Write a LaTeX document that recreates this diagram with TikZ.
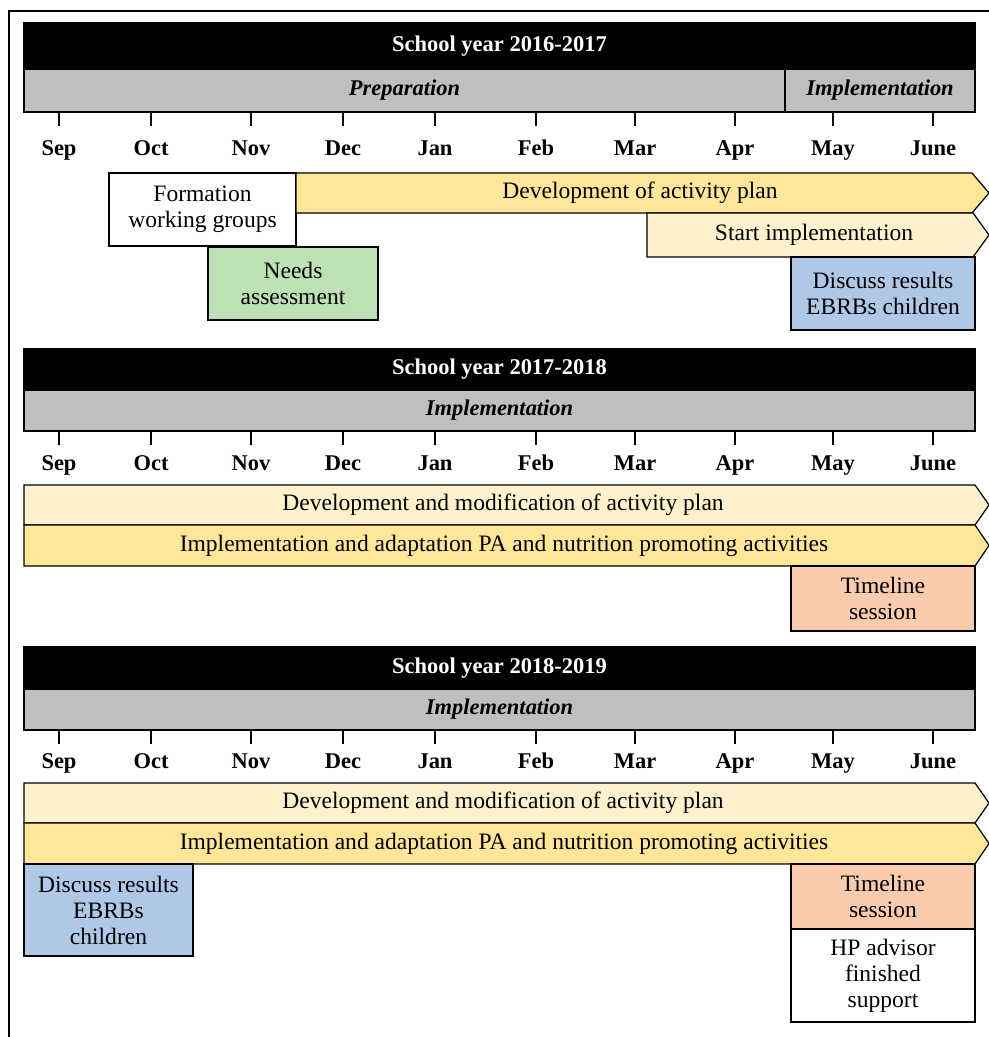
\documentclass[tikz,border=0pt]{standalone}
\usepackage{fontspec}
\setmainfont{Liberation Serif}
\definecolor{bargray}{RGB}{191,191,191}
\definecolor{darkyellow}{RGB}{255,230,153}
\definecolor{lightyellow}{RGB}{255,242,204}
\definecolor{needsgreen}{RGB}{189,224,181}
\definecolor{resultblue}{RGB}{176,200,232}
\definecolor{sessionred}{RGB}{250,203,173}
\newcommand{\chartfont}{\fontsize{13.4}{14.8}\selectfont}
\newcommand{\headfont}{\fontsize{12.8}{14.8}\selectfont\bfseries}
\begin{document}
\begin{tikzpicture}[x=0.02cm, y=-0.02cm, line width=0.7pt,
  every node/.style={font=\chartfont, inner sep=0pt},
  yearbar/.style={draw, fill=black, text=white, font=\headfont, minimum width=19.02cm},
  phasebar/.style={draw, fill=bargray, font=\headfont\itshape, minimum height=0.86cm},
  month/.style={anchor=base, font=\headfont},
  task/.style={draw, align=center, minimum width=3.68cm, minimum height=1.46cm}]
\useasboundingbox (0,0) rectangle (989,1037);
\draw[line width=1pt] (9,1045) -- (9,11) -- (995,11);
% school year 2016-2017
\node[yearbar, minimum height=0.92cm] (year1) at (499.5,46) {School year 2016-2017};
\node[phasebar, minimum width=15.22cm] (prep1) at (404.5,90.5) {Preparation};
\node[phasebar, minimum width=3.8cm] (impl1) at (880,90.5) {Implementation};
\node[task, fill=white, minimum width=3.74cm] (form1) at (202.5,209.5) {Formation\\working groups};
\draw[fill=darkyellow] (296,173) -- (972,173) -- (989,193) -- (972,213) -- (296,213) -- cycle;
\node (dev1) at (640,193) {Development of activity plan};
\draw[fill=lightyellow] (647,213) -- (973,213) -- (989,235) -- (973,257) -- (647,257) -- cycle;
\node (start1) at (814,235) {Start implementation};
\node[task, fill=needsgreen, minimum width=3.4cm] (needs1) at (293,283.5) {Needs\\assessment};
\node[task, fill=resultblue] (disc1) at (883,293.5) {Discuss results\\EBRBs children};
% school year 2017-2018
\node[yearbar, minimum height=0.82cm] (year2) at (499.5,369.5) {School year 2017-2018};
\node[phasebar, minimum width=19.02cm, minimum height=0.82cm] (impl2) at (499.5,410.5) {Implementation};
\draw[fill=lightyellow] (24,485) -- (975,485) -- (989,505) -- (975,525) -- (24,525) -- cycle;
\node (dev2) at (503,505) {Development and modification of activity plan};
\draw[fill=darkyellow] (24,525) -- (975,525) -- (989,545.5) -- (975,566) -- (24,566) -- cycle;
\node (adapt2) at (504,545.5) {Implementation and adaptation PA and nutrition promoting activities};
\node[task, fill=sessionred, minimum height=1.3cm] (time2) at (883,598.5) {Timeline\\session};
% school year 2018-2019
\node[yearbar, minimum height=0.84cm] (year3) at (499.5,668) {School year 2018-2019};
\node[phasebar, minimum width=19.02cm, minimum height=0.82cm] (impl3) at (499.5,709.5) {Implementation};
\draw[fill=lightyellow] (24,783) -- (975,783) -- (989,803) -- (975,823) -- (24,823) -- cycle;
\node (dev3) at (503,803) {Development and modification of activity plan};
\draw[fill=darkyellow] (24,823) -- (975,823) -- (989,843.5) -- (975,864) -- (24,864) -- cycle;
\node (adapt3) at (504,843.5) {Implementation and adaptation PA and nutrition promoting activities};
\node[task, fill=resultblue, minimum width=3.38cm, minimum height=1.84cm] (disc3) at (108.5,910) {Discuss results\\EBRBs\\children};
\node[task, fill=sessionred, minimum height=1.3cm] (time3) at (883,896.5) {Timeline\\session};
\node[task, fill=white, minimum height=1.86cm] (hp3) at (883,975.5) {HP advisor\\finished\\support};
% months
\foreach \m/\x in {Sep/59, Oct/151, Nov/251, Dec/343, Jan/435, Feb/536, Mar/635, Apr/735, May/833, June/933}
  \foreach \t/\b/\s in {112/156/1, 431/470/2, 730/768/3} {
    \draw (\x,\t) -- ++(0,14);
    \node[month] (\m\s) at (\x,\b) {\m};
  }
\end{tikzpicture}
\end{document}
